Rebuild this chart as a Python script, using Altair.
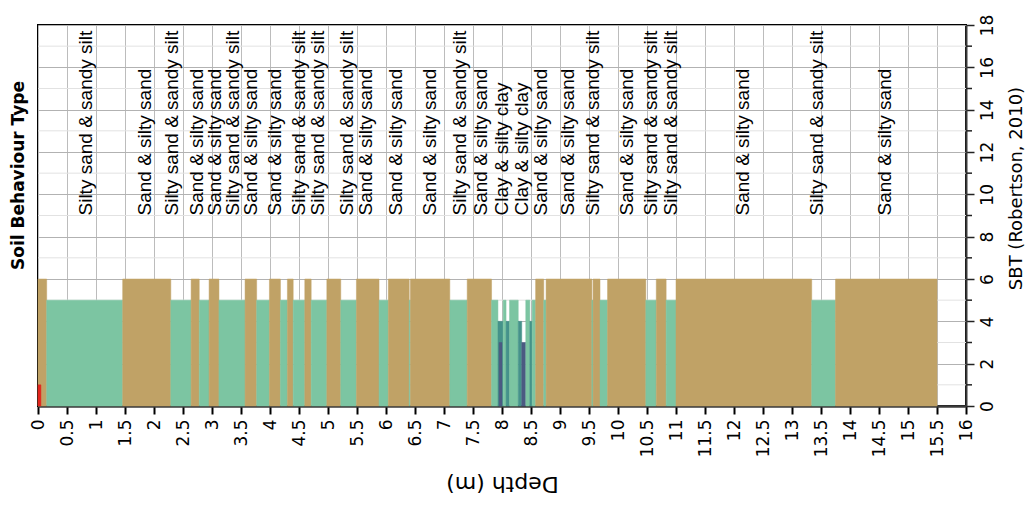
import altair as alt
import pandas as pd

# SBT layers along depth (m): start, end, zone
seg_start = [0.00, 0.00, 0.15, 1.46, 2.29, 2.64, 2.78, 2.95, 3.12, 3.57, 3.77, 3.99, 4.18, 4.30, 4.40, 4.60, 4.71, 4.98, 5.22, 5.49,
             5.88, 6.04, 6.40, 6.42, 7.10, 7.40, 7.82, 7.93, 7.95, 8.02, 8.07, 8.13, 8.28, 8.34, 8.41, 8.48, 8.52, 8.58, 8.72, 8.76,
             9.55, 9.57, 9.69, 9.82, 10.48, 10.66, 10.83, 11.00, 13.34, 13.75]
seg_end = [0.15, 0.05, 1.46, 2.29, 2.64, 2.78, 2.95, 3.12, 3.57, 3.77, 3.99, 4.18, 4.30, 4.40, 4.60, 4.71, 4.98, 5.22, 5.49, 5.88,
           6.04, 6.40, 6.42, 7.10, 7.40, 7.82, 7.93, 8.02, 8.00, 8.07, 8.13, 8.28, 8.34, 8.41, 8.48, 8.52, 8.58, 8.72, 8.76, 9.55,
           9.57, 9.69, 9.82, 10.48, 10.66, 10.83, 11.00, 13.34, 13.75, 15.50]
seg_sbt = [6, 1, 5, 6, 5, 6, 5, 6, 5, 6, 5, 6, 5, 6, 5, 6, 5, 6, 5, 6,
           5, 6, 5, 6, 5, 6, 5, 4, 3, 5, 4, 5, 4, 3, 5, 4, 5, 6, 5, 6,
           5, 6, 5, 6, 5, 6, 5, 6, 5, 6]

# Layer description labels
label_depth = [0.83, 1.84, 2.31, 2.74, 3.05, 3.36, 3.67, 4.09, 4.50, 4.83, 5.33, 5.66, 6.18, 6.76,
               7.28, 7.63, 8.00, 8.34, 8.67, 9.14, 9.57, 10.15, 10.57, 10.91, 12.16, 13.43, 14.60]
label_text = ["Silty sand & sandy silt", "Sand & silty sand", "Silty sand & sandy silt", "Sand & silty sand",
              "Sand & silty sand", "Silty sand & sandy silt", "Sand & silty sand", "Sand & silty sand",
              "Silty sand & sandy silt", "Silty sand & sandy silt", "Silty sand & sandy silt", "Sand & silty sand",
              "Sand & silty sand", "Sand & silty sand", "Silty sand & sandy silt", "Sand & silty sand",
              "Clay & silty clay", "Clay & silty clay", "Sand & silty sand", "Sand & silty sand",
              "Silty sand & sandy silt", "Sand & silty sand", "Silty sand & sandy silt", "Silty sand & sandy silt",
              "Sand & silty sand", "Silty sand & sandy silt", "Sand & silty sand"]
label_level = 9  # SBT value where label text starts

x_ticks = [0, 0.5, 1, 1.5, 2, 2.5, 3, 3.5, 4, 4.5, 5, 5.5, 6, 6.5, 7, 7.5, 8,
           8.5, 9, 9.5, 10, 10.5, 11, 11.5, 12, 12.5, 13, 13.5, 14, 14.5, 15, 15.5, 16]
y_major = [0, 2, 4, 6, 8, 10, 12, 14, 16, 18]
y_minor = [1, 3, 5, 7, 9, 11, 13, 15, 17]

zone_domain = [1, 3, 4, 5, 6]
zone_colors = ["#e3241d", "#4b5a82", "#45928a", "#7cc5a2", "#c0a266"]

W, H = 928, 381
x_scale = alt.Scale(domain=[0, 16], nice=False, zero=False)
y_scale = alt.Scale(domain=[0, 18], nice=False, zero=False)

x_axis = alt.Axis(
    values=x_ticks, labelExpr="'' + datum.value", labelAngle=270, labelAlign="right",
    labelBaseline="middle", labelFont="DejaVu Sans", labelFontSize=17, labelColor="black",
    labelPadding=5, labelOverlap=False, labelFlush=False,
    tickSize=8, tickWidth=2, tickColor="black",
    domainColor="#3a3a3a", domainWidth=2.5,
    grid=True, gridColor="#bcbcbc", gridWidth=1,
    title="Depth (m)", titleAngle=180, titleFont="DejaVu Sans", titleFontSize=22,
    titleFontWeight="normal", titleColor="black", titleX=W / 2, titleY=77,
    titleAlign="center", titleBaseline="middle")

segs = pd.DataFrame({"start": seg_start, "end": seg_end, "sbt": seg_sbt})
labels = pd.DataFrame({"depth": label_depth, "label": label_text, "lvl": [label_level] * len(label_depth)})
minor = pd.DataFrame({"v": y_minor})

minor_grid = alt.Chart(minor).mark_rule(color="#e2e2e2", strokeWidth=1).encode(
    y=alt.Y("v:Q", scale=y_scale, axis=None)
)
minor_ticks = alt.Chart(minor).mark_rule(color="#222222", strokeWidth=1.5).encode(
    y=alt.Y("v:Q", scale=y_scale, axis=None),
    x=alt.value(W), x2=alt.value(W + 6)
)

color_scale = alt.Scale(domain=zone_domain, range=zone_colors)
bars = alt.Chart(segs).mark_rect(strokeWidth=0.5).encode(
    x=alt.X("start:Q", scale=x_scale, axis=x_axis),
    x2="end:Q",
    y=alt.Y("sbt:Q", scale=y_scale, axis=alt.Axis(
        orient="right", values=y_major, labelAngle=270, labelAlign="center", labelBaseline="top",
        labelFont="DejaVu Sans", labelFontSize=17, labelColor="black", labelPadding=5,
        labelOverlap=False, labelFlush=False,
        tickSize=8, tickWidth=1.5, tickColor="#222222",
        domainColor="#3a3a3a", domainWidth=2,
        grid=True, gridColor="#b2b2b2", gridWidth=1,
        title="SBT (Robertson, 2010)", titleAngle=270, titleFont="DejaVu Sans", titleFontSize=18,
        titleFontWeight="normal", titleColor="black", titleX=50, titleY=163,
        titleAlign="center", titleBaseline="middle")),
    y2=alt.datum(0),
    color=alt.Color("sbt:N", scale=color_scale, legend=None),
    stroke=alt.Stroke("sbt:N", scale=color_scale, legend=None),
)

texts = alt.Chart(labels).mark_text(
    angle=270, align="left", baseline="middle", font="Liberation Sans", fontSize=19,
    color="black", clip=True
).encode(
    x=alt.X("depth:Q", scale=x_scale, axis=x_axis),
    y=alt.Y("lvl:Q", scale=y_scale, axis=alt.Axis(
        orient="left", labels=False, ticks=False, domain=False, grid=False,
        title="Soil Behaviour Type", titleAngle=270, titleFont="DejaVu Sans", titleFontSize=17,
        titleFontWeight="bold", titleColor="black", titleX=-20, titleY=150,
        titleAlign="center", titleBaseline="middle")),
    text="label:N",
)

chart = alt.layer(minor_grid, bars, minor_ticks, texts).resolve_axis(y="independent").resolve_scale(
    color="shared", stroke="shared"
).properties(
    width=W, height=H,
    autosize=alt.AutoSizeParams(type="none"),
    padding={"left": 30, "top": 17, "right": 59, "bottom": 92},
).configure_view(stroke="black", strokeWidth=2)

chart.save("out.html", embed_options={"renderer": "svg", "actions": False})
